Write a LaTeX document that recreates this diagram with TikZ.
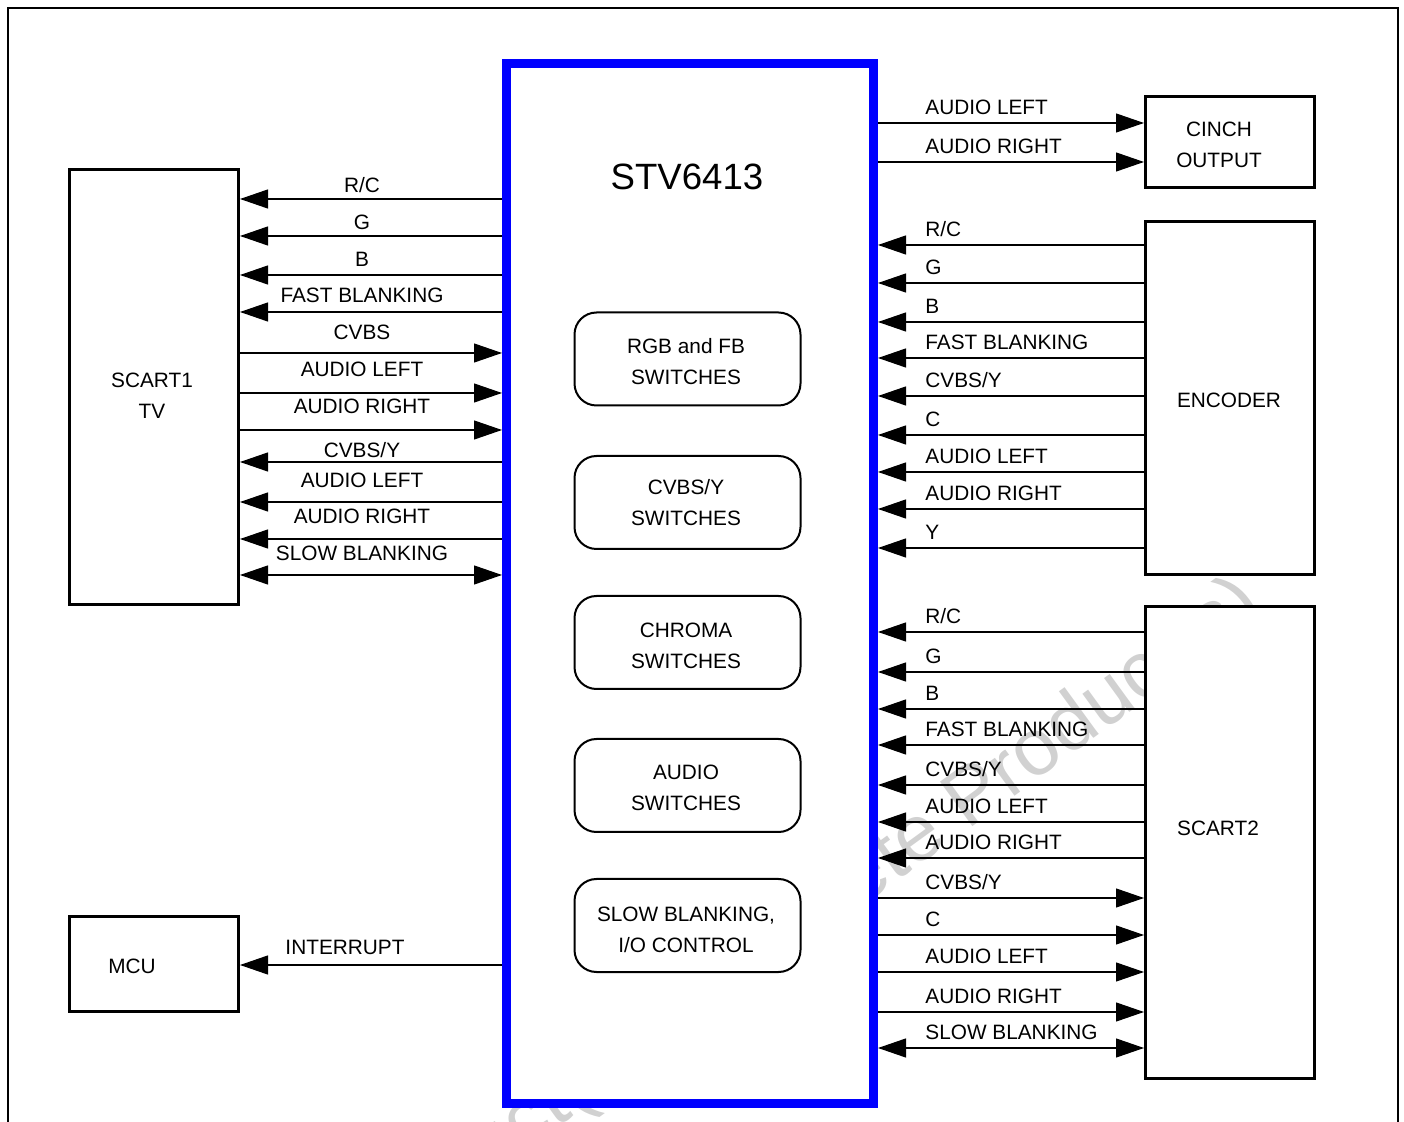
\documentclass[tikz,border=0pt]{standalone}
\usepackage{fontspec}
\setmainfont{Liberation Sans}
\usetikzlibrary{arrows.meta}
\newcommand\lsig[5]{%
  \draw[sigline,#5] (scart1.east |- 0,#2) -- (chip.west |- 0,#2);
  \node[lbl, anchor=base] (#1) at (362,#3) {#4};}
\newcommand\rsig[5]{%
  \draw[sigline,#5] (chip.east |- 0,#3) -- (#2.west |- 0,#3);
  \node[lbl, anchor=base west] (#1) at (925,#3-8.5) {#4};}
\begin{document}
\begin{tikzpicture}[x=0.5pt,y=-0.5pt,
  every node/.style={inner sep=0pt},
  lbl/.style={font=\fontsize{10.4}{15.5}\selectfont, inner sep=0pt},
  box/.style={draw, line width=1.5pt, fill=white, minimum width=84.75pt},
  sw/.style={draw, line width=1pt, rounded corners=11pt, fill=white, minimum width=113pt, minimum height=46.5pt},
  swt/.style={lbl, align=center},
  sigline/.style={line width=0.55pt, >={Triangle[length=14pt,width=9.5pt]}},
  frame/.style={line width=1.3pt},
  wm/.style={font=\fontsize{40}{48}\selectfont, text=black!18, rotate=36}]
\useasboundingbox (0,0) rectangle (1404,1122);
\draw[frame] (8,1122) -- (8,8) -- (1398,8) -- (1398,1122);
% watermark
\node[wm, anchor=base east] (wma) at (690,1032) {Obsolete Product(s) -~};
\node[wm, anchor=base west] (wmb) at (690,1032) {Obsolete Product(s)};
% main blocks
\node[draw=blue, line width=4.5pt, fill=white, minimum width=183.5pt, minimum height=519.5pt] (chip) at (690,583.5) {};
\node[box, minimum height=217.75pt] (scart1) at (153.75,387.25) {};
\node[box, minimum height=47.25pt] (mcu) at (153.75,963.75) {};
\node[box, minimum width=84.5pt, minimum height=45.5pt] (cinch) at (1230,142) {};
\node[box, minimum width=84.5pt, minimum height=176.75pt] (encoder) at (1230,398.25) {};
\node[box, minimum width=84.5pt, minimum height=235.75pt] (scart2) at (1230,842.25) {};
% block texts
\node[lbl, align=center] (tscart1) at (152,395.5) {SCART1\\TV};
\node[lbl] (tmcu) at (132,966) {MCU};
\node[lbl, align=center] (tcinch) at (1219,144.5) {CINCH\\OUTPUT};
\node[lbl] (tenc) at (1229,400) {ENCODER};
\node[lbl] (tscart2) at (1218,828) {SCART2};
\node[font=\fontsize{18.3}{22}\selectfont] (tchip) at (687,177) {STV6413};
% internal switch blocks
\node[sw] (sw1) at (687.5,359) {};
\node[sw] (sw2) at (687.5,502.5) {};
\node[sw] (sw3) at (687.5,642.5) {};
\node[sw] (sw4) at (687.5,785.5) {};
\node[sw] (sw5) at (687.5,925.5) {};
\node[swt] (tsw1) at (686,361.5) {RGB and FB\\SWITCHES};
\node[swt] (tsw2) at (686,503) {CVBS/Y\\SWITCHES};
\node[swt] (tsw3) at (686,645.5) {CHROMA\\SWITCHES};
\node[swt] (tsw4) at (686,787.5) {AUDIO\\SWITCHES};
\node[swt] (tsw5) at (686,930) {SLOW BLANKING,\\I/O CONTROL};
% SCART1 signals
\lsig{l1}{199}{193}{R/C}{<-}
\lsig{l2}{236}{230}{G}{<-}
\lsig{l3}{275}{267}{B}{<-}
\lsig{l4}{312}{302.5}{FAST BLANKING}{<-}
\lsig{l5}{353}{339.5}{CVBS}{->}
\lsig{l6}{393}{377}{AUDIO LEFT}{->}
\lsig{l7}{430}{414}{AUDIO RIGHT}{->}
\lsig{l8}{462}{457.5}{CVBS/Y}{<-}
\lsig{l9}{502}{488}{AUDIO LEFT}{<-}
\lsig{l10}{539}{524}{AUDIO RIGHT}{<-}
\lsig{l11}{575}{561}{SLOW BLANKING}{<->}
% MCU
\draw[sigline,<-] (mcu.east |- 0,965) -- (chip.west |- 0,965);
\node[lbl, anchor=base] (l12) at (345,954.5) {INTERRUPT};
% CINCH
\rsig{c1}{cinch}{123}{AUDIO LEFT}{->}
\rsig{c2}{cinch}{162}{AUDIO RIGHT}{->}
% ENCODER
\rsig{e1}{encoder}{245}{R/C}{<-}
\rsig{e2}{encoder}{283}{G}{<-}
\rsig{e3}{encoder}{322}{B}{<-}
\rsig{e4}{encoder}{358}{FAST BLANKING}{<-}
\rsig{e5}{encoder}{396}{CVBS/Y}{<-}
\rsig{e6}{encoder}{435}{C}{<-}
\rsig{e7}{encoder}{472}{AUDIO LEFT}{<-}
\rsig{e8}{encoder}{509}{AUDIO RIGHT}{<-}
\rsig{e9}{encoder}{548}{Y}{<-}
% SCART2
\rsig{s1}{scart2}{632}{R/C}{<-}
\rsig{s2}{scart2}{672}{G}{<-}
\rsig{s3}{scart2}{709}{B}{<-}
\rsig{s4}{scart2}{745}{FAST BLANKING}{<-}
\rsig{s5}{scart2}{785}{CVBS/Y}{<-}
\rsig{s6}{scart2}{822}{AUDIO LEFT}{<-}
\rsig{s7}{scart2}{858}{AUDIO RIGHT}{<-}
\rsig{s8}{scart2}{898}{CVBS/Y}{->}
\rsig{s9}{scart2}{935}{C}{->}
\rsig{s10}{scart2}{972}{AUDIO LEFT}{->}
\rsig{s11}{scart2}{1012}{AUDIO RIGHT}{->}
\rsig{s12}{scart2}{1048}{SLOW BLANKING}{<->}
\end{tikzpicture}
\end{document}
